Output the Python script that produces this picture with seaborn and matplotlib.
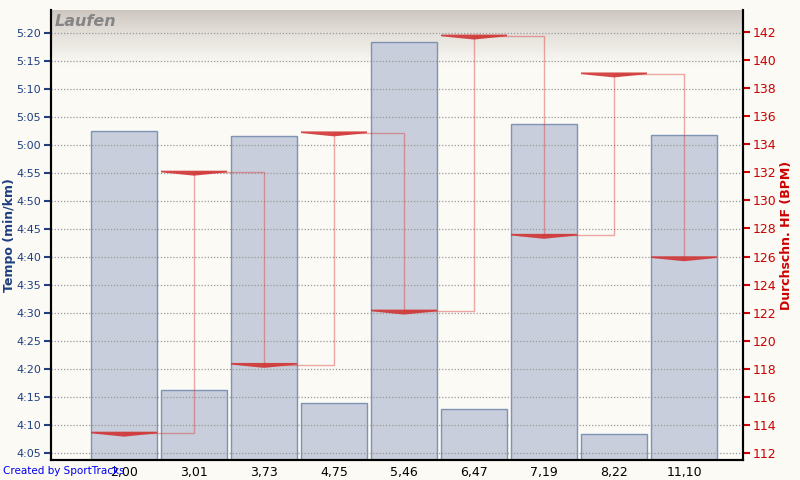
import numpy as np
import pandas as pd
import matplotlib
matplotlib.use("Agg")
import matplotlib.pyplot as plt
from matplotlib.path import Path
from matplotlib.ticker import FixedLocator, FuncFormatter
import seaborn as sns

# ---- data ----
distances = ["2,00", "3,01", "3,73", "4,75", "5,46", "6,47", "7,19", "8,22", "11,10"]
pace_sec = [302.5, 256.3, 301.6, 253.9, 318.3, 252.9, 303.8, 248.4, 301.8]   # seconds per km
avg_hr = [113.4, 132.0, 118.3, 134.8, 122.1, 141.7, 127.5, 139.0, 125.9]    # BPM
pace_ticks = list(range(245, 321, 5))
hr_ticks = list(range(112, 143, 2))

df = pd.DataFrame({"dist": distances, "pace": pace_sec, "hr": avg_hr})
df["pos"] = np.arange(len(df))

sns.set_theme(style="white")
plt.rcParams["font.family"] = ["DejaVu Sans"]

BG = "#fbfaf5"
BLUE = "#1f3f80"
RED = "#cc0000"

fig = plt.figure(figsize=(8, 4.8), dpi=100, facecolor=BG)
ax = fig.add_axes([51 / 800, 20 / 480, (743 - 51) / 800, (460 - 10) / 480])
ax.set_facecolor(BG)

# gradient at top of plot area
n = 256
top_c = np.array([0.80, 0.77, 0.745])
bg_c = np.array(matplotlib.colors.to_rgb(BG))
t = np.linspace(0, 1, n) ** 0.8
img = (top_c[None, :] * (1 - t[:, None]) + bg_c[None, :] * t[:, None]).reshape(n, 1, 3)
ax.imshow(img, extent=[0, 1, 1 - 56 / 450, 1], transform=ax.transAxes,
          aspect="auto", zorder=0, interpolation="bilinear")

sns.barplot(data=df, x="pos", y="pace", ax=ax, width=0.943, color="#c8cedb",
            edgecolor="#6f84ad", linewidth=1.0, saturation=1, zorder=1,
            order=list(range(len(df))))
for p in ax.patches:
    p.set_facecolor("#c8cedb")
    p.set_edgecolor((0.43, 0.52, 0.68, 0.85))

ax.set_xlim(-1.043, 8.843)
ax.set_ylim(243.75, 324.1)
ax.yaxis.set_major_locator(FixedLocator(pace_ticks))
ax.yaxis.set_major_formatter(FuncFormatter(lambda v, _: f"{int(v)//60}:{int(v)%60:02d}"))
ax.set_xticks(range(len(distances)))
ax.set_xticklabels(distances)
ax.grid(axis="y", color="#999999", linestyle=(0, (1, 1.5)), linewidth=0.9, zorder=2)
ax.set_axisbelow(False)
ax.tick_params(axis="y", colors=BLUE, length=5, width=1.5, direction="out",
               labelsize=8, pad=2, left=True)
ax.tick_params(axis="x", colors="black", length=0, labelsize=9, pad=4)
ax.set_xlabel("")
ax.set_ylabel("Tempo (min/km)", color=BLUE, fontsize=9, fontweight="bold")
ax.yaxis.set_label_coords((16 - 51) / 692, 0.5)
for s in ["left", "bottom", "right"]:
    ax.spines[s].set_visible(True)
    ax.spines[s].set_color("black")
    ax.spines[s].set_linewidth(1.5)
ax.spines["top"].set_visible(False)

ax.text(0.006, 0.992, "Laufen", transform=ax.transAxes, ha="left", va="top",
        fontsize=11.5, fontweight="bold", fontstyle="italic", color="#858585", zorder=5)

# HR on twin axis
ax2 = ax.twinx()
ax2.set_ylim(111.5, 143.57)
ax2.plot(df["pos"], df["hr"], drawstyle="steps-post", color=(0.85, 0.2, 0.2, 0.42),
         linewidth=1.0, zorder=3)
marker_path = Path([(-1, 0.05), (1, 0.05), (1, 0.0), (0, -0.1), (-1, 0.0), (-1, 0.05)],
                   [Path.MOVETO, Path.LINETO, Path.LINETO, Path.LINETO, Path.LINETO, Path.CLOSEPOLY])
sns.scatterplot(data=df, x="pos", y="hr", ax=ax2, marker=marker_path,
                s=(66 * 0.72) ** 2, color="#d03434", edgecolor="none", linewidth=0,
                alpha=0.9, zorder=4, legend=False)
ax2.set_xlim(-1.043, 8.843)
ax2.yaxis.set_major_locator(FixedLocator(hr_ticks))
ax2.tick_params(axis="y", colors=RED, length=5, width=1.5, direction="out",
                labelsize=9, pad=2, right=True)
ax2.set_ylabel("Durchschn. HF (BPM)", color=RED, fontsize=9, fontweight="bold")
ax2.yaxis.set_label_coords((780 - 51) / 692, 0.5)
ax2.set_xlabel("")
ax2.grid(False)
for s in ["left", "bottom", "right"]:
    ax2.spines[s].set_color("black")
    ax2.spines[s].set_linewidth(1.5)
ax2.spines["top"].set_visible(False)

fig.text(3 / 800, 1 - 471 / 480, "Created by SportTracks", color="#0000ee",
         fontsize=7.5, ha="left", va="center")

fig.savefig("out.png", dpi=100, facecolor=BG)
